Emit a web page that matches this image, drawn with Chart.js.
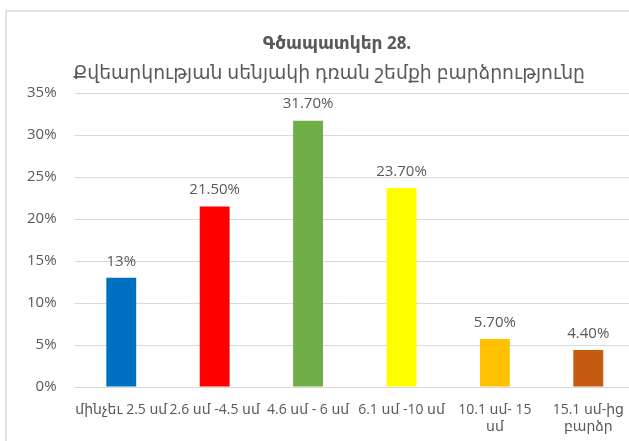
<!DOCTYPE html>
<html>
<head>
<meta charset="utf-8">
<script src="https://cdn.jsdelivr.net/npm/chart.js@4"></script>
<style>
  html, body { margin: 0; padding: 0; background: #fff; overflow: hidden; }
  #frame { position: absolute; left: 5px; top: 10px; width: 700px; height: 500px;
           border-left: 2px solid #e3e3e3; border-top: 2px solid #e3e3e3; }
  #wrap { position: absolute; left: 0; top: 0; width: 650px; height: 441px; }
  .ttl { position: absolute; color: #595959; font-family: 'Open Sans', 'DejaVu Sans', sans-serif;
         white-space: nowrap; transform: translate(-50%, -50%); }
  #t1 { left: 337px; top: 42px; font-size: 17px; font-weight: bold; }
  #t2 { left: 329px; top: 72px; font-size: 18.8px; }
</style>
</head>
<body>
<div id="frame"></div>
<div id="wrap"><canvas id="chart" width="650" height="441"></canvas></div>
<div class="ttl" id="t1">Գծապատկեր 28.</div>
<div class="ttl" id="t2">Քվեարկության սենյակի դռան շեմքի բարձրությունը</div>
<script>
const categories = [
    'մինչեւ 2.5 սմ',
    '2.6 սմ -4.5 սմ',
    '4.6 սմ - 6 սմ',
    '6.1 սմ -10 սմ',
    ['10.1 սմ- 15', 'սմ'],
    ['15.1 սմ-ից', 'բարձր']
];
const values = [13, 21.5, 31.7, 23.7, 5.7, 4.4];
const valueLabels = ['13%', '21.50%', '31.70%', '23.70%', '5.70%', '4.40%'];
const barColors = ['#0070C0', '#FF0000', '#70AD47', '#FFFF00', '#FFC000', '#C55A11'];
const yTicks = [0, 5, 10, 15, 20, 25, 30, 35];

const fontFamily = "'Open Sans', 'DejaVu Sans', sans-serif";

// draws the value above each bar
const valueLabelPlugin = {
    id: 'valueLabels',
    afterDatasetsDraw(chart) {
        const ctx = chart.ctx;
        const meta = chart.getDatasetMeta(0);
        ctx.save();
        ctx.font = '15px ' + fontFamily;
        ctx.fillStyle = '#595959';
        ctx.textAlign = 'center';
        ctx.textBaseline = 'bottom';
        meta.data.forEach((bar, i) => {
            ctx.fillText(valueLabels[i], bar.x, bar.y - 9);
        });
        ctx.restore();
    }
};

const ctx = document.getElementById('chart').getContext('2d');
new Chart(ctx, {
    type: 'bar',
    data: {
        labels: categories,
        datasets: [{
            data: values,
            backgroundColor: barColors,
            barPercentage: 0.5,
            categoryPercentage: 0.64
        }]
    },
    options: {
        responsive: false,
        animation: false,
        layout: { padding: { left: 9, right: 15, top: 93, bottom: 6 } },
        plugins: {
            legend: { display: false },
            tooltip: { enabled: false }
        },
        scales: {
            x: {
                grid: { display: false },
                border: { display: false },
                afterFit(scale) {
                    scale.height = 48;
                },
                ticks: {
                    color: '#595959',
                    padding: 7,
                    font: { family: fontFamily, size: 14 },
                    maxRotation: 0,
                    autoSkip: false
                }
            },
            y: {
                min: 0,
                max: 35,
                afterBuildTicks(axis) {
                    axis.ticks = yTicks.map(v => ({ value: v }));
                },
                grid: { color: '#d9d9d9', lineWidth: 1, drawTicks: false },
                border: { display: false },
                ticks: {
                    color: '#595959',
                    padding: 18,
                    font: { family: fontFamily, size: 15 },
                    callback: v => v + '%'
                }
            }
        }
    },
    plugins: [valueLabelPlugin]
});
</script>
</body>
</html>
